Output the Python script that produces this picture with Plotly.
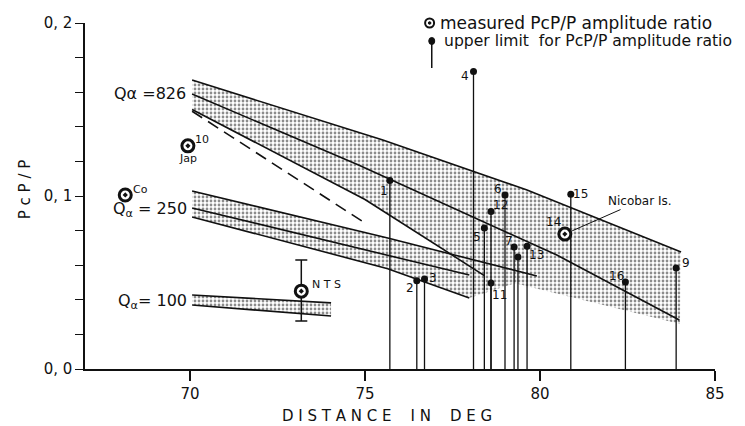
import plotly.graph_objects as go

# ---------------- data ----------------
x_tick_vals = [70, 75, 80, 85]
x_tick_text = ["70", "75", "80", "85"]
y_tick_vals = [0.0, 0.02, 0.04, 0.06, 0.08, 0.10, 0.12, 0.14, 0.16, 0.18, 0.20]
y_tick_text = ["0, 0", "", "", "", "", "0, 1", "", "", "", "", "0, 2"]

# Q_alpha = 826 model band
q826_upper_x = [70.06, 75.51, 79.63, 84.03]
q826_upper_y = [0.167, 0.1324, 0.1035, 0.0676]
q826_mid_x = [70.06, 74.8, 80.48, 83.98]
q826_mid_y = [0.159, 0.118, 0.0659, 0.0283]
q826_low_x = [70.06, 75.0, 78.41]
q826_low_y = [0.150, 0.098, 0.054]
q826_edge_x = [70.06, 75.0, 78.41, 84.0]
q826_edge_y = [0.150, 0.098, 0.054, 0.026]
dashed_x = [70.06, 75.0]
dashed_y = [0.149, 0.0844]

# Q_alpha = 250 model band
q250_top_x = [70.06, 75.65, 79.91]
q250_top_y = [0.1029, 0.0757, 0.0538]
q250_mid_x = [70.06, 75.65, 77.98]
q250_mid_y = [0.0931, 0.0659, 0.0543]
q250_low_x = [70.06, 75.65, 77.98]
q250_low_y = [0.0879, 0.058, 0.041]

# Q_alpha = 100 model band
q100_top_x = [70.06, 74.03]
q100_top_y = [0.0428, 0.0382]
q100_low_x = [70.06, 74.03]
q100_low_y = [0.037, 0.0306]

# measured PcP/P amplitude ratios
measured_names = ["10", "Co", "NTS", "14"]
measured_x = [69.94, 68.15, 73.18, 80.71]
measured_y = [0.129, 0.1006, 0.045, 0.078]
measured_err_plus = [0, 0, 0.018, 0]
measured_err_minus = [0, 0, 0.0173, 0]

# upper limits for PcP/P amplitude ratio
limit_labels = ["1", "2", "3", "4", "5", "12", "11", "6", "7", "", "13", "15", "16", "9"]
limit_x = [75.71, 76.48, 76.70, 78.10, 78.41, 78.60, 78.60, 79.00, 79.26, 79.37, 79.63, 80.88, 82.44, 83.89]
limit_y = [0.109, 0.051, 0.052, 0.172, 0.0815, 0.091, 0.0497, 0.1006, 0.0705, 0.0647, 0.071, 0.101, 0.0503, 0.0584]

# label offsets in pixels (style only)
limit_label_dx = [-6, -7, 8, -9, -7, 9, 8, -7, -5, 0, 9, 10, -9, 10]
limit_label_dy = [-11, -7, 1, -5, -9, 7, -12, 6, 6, 0, -9, 0, 6, 5]

FONT = "DejaVu Sans"
BLACK = "#111111"
stipple = dict(shape=".", size=4, solidity=0.38, fgcolor="#1a1a1a", bgcolor="white", fillmode="overlay")

fig = go.Figure()

def band_fill(xu, yu, xl, yl):
    fig.add_trace(go.Scatter(
        x=list(xu) + list(xl)[::-1], y=list(yu) + list(yl)[::-1],
        fill="toself", fillcolor="rgba(0,0,0,0)", fillpattern=stipple,
        line=dict(width=0), mode="lines", hoverinfo="skip", showlegend=False))

def band_line(x, y, dash="solid", width=1.6):
    fig.add_trace(go.Scatter(x=x, y=y, mode="lines",
                             line=dict(color=BLACK, width=width, dash=dash),
                             hoverinfo="skip", showlegend=False))

band_fill(q826_upper_x, q826_upper_y, q826_edge_x, q826_edge_y)
band_fill(q250_top_x, q250_top_y, q250_low_x, q250_low_y)
band_fill(q100_top_x, q100_top_y, q100_low_x, q100_low_y)

for xs, ys in [(q826_upper_x, q826_upper_y), (q826_mid_x, q826_mid_y), (q826_low_x, q826_low_y),
               (q250_top_x, q250_top_y), (q250_mid_x, q250_mid_y), (q250_low_x, q250_low_y),
               (q100_top_x, q100_top_y), (q100_low_x, q100_low_y)]:
    band_line(xs, ys)
band_line(dashed_x, dashed_y, dash="12px,7px", width=1.6)

# upper-limit stems with dots
fig.add_trace(go.Scatter(
    x=limit_x, y=limit_y, mode="markers",
    marker=dict(symbol="circle", size=7, color=BLACK),
    error_y=dict(type="data", symmetric=False, array=[0] * len(limit_y),
                 arrayminus=limit_y, width=0, thickness=1.3, color=BLACK),
    cliponaxis=False, showlegend=False, hoverinfo="x+y"))

# measured points
fig.add_trace(go.Scatter(
    x=measured_x, y=measured_y, mode="markers",
    marker=dict(symbol="circle-dot", size=12, color="white",
                line=dict(color=BLACK, width=3)),
    error_y=dict(type="data", symmetric=False, array=measured_err_plus,
                 arrayminus=measured_err_minus, width=6, thickness=1.5, color=BLACK),
    cliponaxis=False, showlegend=False, hoverinfo="x+y"))

ann = []
for lab, x, y, dx, dy in zip(limit_labels, limit_x, limit_y, limit_label_dx, limit_label_dy):
    if lab:
        ann.append(dict(x=x, y=y, text=lab, showarrow=False, xshift=dx, yshift=dy,
                        font=dict(family=FONT, size=12, color=BLACK)))

# measured point labels
ann.append(dict(x=measured_x[0], y=measured_y[0], text="10", showarrow=False, xshift=14, yshift=6,
                font=dict(family=FONT, size=11, color=BLACK)))
ann.append(dict(x=measured_x[0], y=measured_y[0], text="Jap", showarrow=False, xshift=0, yshift=-13,
                font=dict(family=FONT, size=11, color=BLACK)))
ann.append(dict(x=measured_x[1], y=measured_y[1], text="Co", showarrow=False, xshift=15, yshift=5,
                font=dict(family=FONT, size=11, color=BLACK)))
ann.append(dict(x=measured_x[2], y=measured_y[2], text="N T S", showarrow=False, xshift=25, yshift=7,
                font=dict(family=FONT, size=11, color=BLACK)))
ann.append(dict(x=measured_x[3], y=measured_y[3], text="14", showarrow=False, xshift=-11, yshift=12,
                font=dict(family=FONT, size=12, color=BLACK)))
ann.append(dict(x=measured_x[3], y=measured_y[3], text="Nicobar Is.", showarrow=True, arrowhead=0,
                arrowwidth=1, arrowcolor=BLACK, ax=75, ay=-33, standoff=8,
                font=dict(family=FONT, size=12, color=BLACK)))

# model labels
ann.append(dict(x=q826_upper_x[0], y=q826_mid_y[0], text="Q\u03b1 =826", showarrow=False, xanchor="right",
                xshift=-4, yshift=0, font=dict(family=FONT, size=16, color=BLACK)))
ann.append(dict(x=q250_top_x[0], y=q250_mid_y[0], text="Q<sub>\u03b1</sub> = 250", showarrow=False,
                xanchor="right", xshift=-3, yshift=-2, font=dict(family=FONT, size=16, color=BLACK)))
ann.append(dict(x=q100_top_x[0], y=q100_low_y[0], text="Q<sub>\u03b1</sub>= 100", showarrow=False,
                xanchor="right", xshift=-3, yshift=3, font=dict(family=FONT, size=16, color=BLACK)))

# legend texts
ann.append(dict(xref="paper", yref="paper", x=0.560, y=1.0, xanchor="left", yanchor="middle",
                text="measured PcP/P amplitude ratio", showarrow=False,
                font=dict(family=FONT, size=17, color=BLACK)))
ann.append(dict(xref="paper", yref="paper", x=0.566, y=0.948, xanchor="left", yanchor="middle",
                text="upper limit  for PcP/P amplitude ratio", showarrow=False,
                font=dict(family=FONT, size=15.6, color=BLACK)))

# axis titles
ann.append(dict(xref="paper", yref="paper", x=-0.095, y=0.52, xanchor="center", yanchor="middle",
                text="P c P / P", textangle=-90,
                showarrow=False, font=dict(family=FONT, size=15, color=BLACK)))
ann.append(dict(xref="paper", yref="paper", x=0.48, y=-0.135, xanchor="center", yanchor="middle",
                text="D I S T A N C E \u00a0\u00a0\u00a0I N \u00a0\u00a0\u00a0D E G", showarrow=False,
                font=dict(family=FONT, size=15, color=BLACK)))

LEG_X1, LEG_X2 = 0.547, 0.5504
shapes = [
    dict(type="circle", xref="paper", yref="paper", xsizemode="pixel", ysizemode="pixel",
         xanchor=LEG_X1, yanchor=1.0, x0=-4.5, x1=4.5, y0=-4.5, y1=4.5,
         line=dict(color=BLACK, width=2), fillcolor="white"),
    dict(type="circle", xref="paper", yref="paper", xsizemode="pixel", ysizemode="pixel",
         xanchor=LEG_X1, yanchor=1.0, x0=-1.3, x1=1.3, y0=-1.3, y1=1.3,
         line=dict(color=BLACK, width=1), fillcolor=BLACK),
    dict(type="line", xref="paper", yref="paper", x0=LEG_X2, x1=LEG_X2, y0=0.948, y1=0.870,
         line=dict(color=BLACK, width=1.5)),
    dict(type="circle", xref="paper", yref="paper", xsizemode="pixel", ysizemode="pixel",
         xanchor=LEG_X2, yanchor=0.948, x0=-3, x1=3, y0=-3.5, y1=3.5,
         line=dict(color=BLACK, width=1), fillcolor=BLACK),
]

fig.update_layout(
    width=745, height=426,
    margin=dict(l=77, r=37.5, t=15, b=65, autoexpand=False),
    paper_bgcolor="white", plot_bgcolor="white",
    font=dict(family=FONT, size=15, color=BLACK),
    annotations=ann, shapes=shapes, showlegend=False,
    xaxis=dict(range=[67.0, 85], tickvals=x_tick_vals, ticktext=x_tick_text, automargin=False,
               showline=True, linecolor=BLACK, linewidth=1.5, ticks="outside",
               ticklen=10, tickwidth=1.5, tickcolor=BLACK, showgrid=False, zeroline=False,
               tickfont=dict(family=FONT, size=15, color=BLACK)),
    yaxis=dict(range=[0, 0.2], tickvals=y_tick_vals, ticktext=y_tick_text, automargin=False,
               showline=True, linecolor=BLACK, linewidth=1.5, ticks="outside",
               ticklen=8, tickwidth=1.3, tickcolor=BLACK, showgrid=False, zeroline=False,
               tickfont=dict(family=FONT, size=15, color=BLACK)),
)

fig.write_html("out.html")
